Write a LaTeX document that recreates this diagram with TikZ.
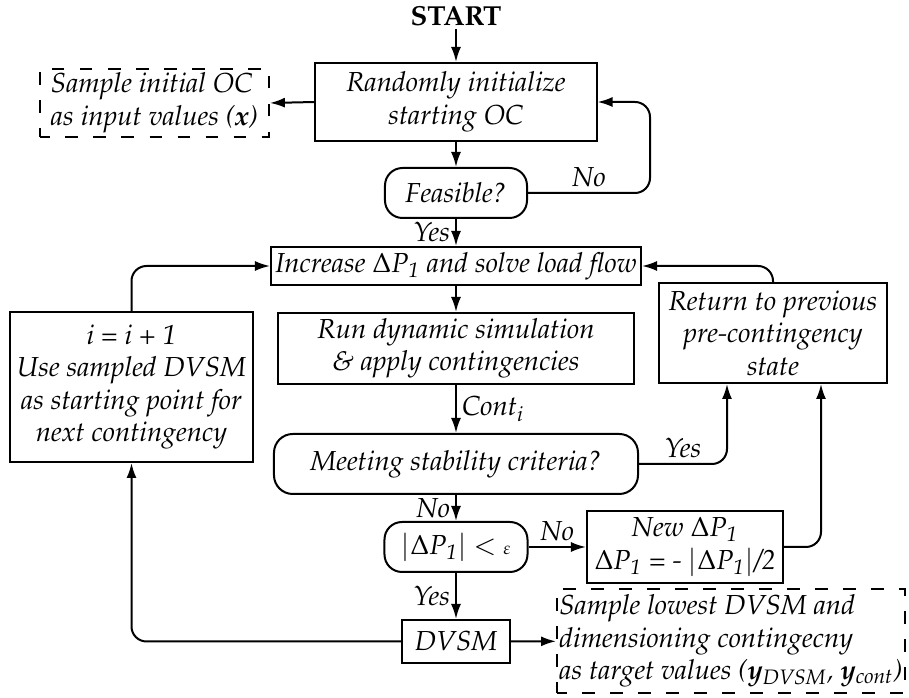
\documentclass[tikz,border=0pt]{standalone}
\usepackage[T1]{fontenc}
\usepackage{mathpazo}
\usetikzlibrary{arrows.meta}
\newcommand{\dP}{$\Delta$\textit{P}\textsubscript{1}}
\begin{document}
\begin{tikzpicture}[x=0.4pt,y=-0.4pt,
  every node/.style={font=\fontsize{11}{13}\selectfont\itshape, inner sep=1pt},
  box/.style={draw, line width=0.8pt, align=center},
  rbox/.style={box, rounded corners=7pt},
  dbox/.style={draw, line width=0.7pt, align=left, dash pattern=on 5pt off 6.2pt, dash phase=1pt},
  arr/.style={line width=0.8pt, -{Latex[length=6pt,width=4pt]}, rounded corners=6pt},
  lbl/.style={inner sep=2pt}
]
\useasboundingbox (0,0) rectangle (909,698);

\node[font=\fontsize{11}{13}\selectfont\bfseries\upshape] (start) at (456,16) {START};
\node[box, minimum width=112.4pt, minimum height=31.2pt] (init) at (456,102) {Randomly initialize\\starting OC};
\node[dbox, minimum width=91.6pt, minimum height=27.2pt] (s1) at (154.5,103) {Sample initial OC\\as input values (\textbf{x})};
\node[rbox, minimum width=56.8pt, minimum height=20pt] (feas) at (456,193) {Feasible?};
\node[box, minimum width=148pt, minimum height=15.2pt] (incr) at (456,266) {Increase \dP{} and solve load flow};
\node[box, minimum width=142pt, minimum height=28.4pt] (run) at (456,348.5) {Run dynamic simulation\\\& apply contingencies};
\node[rbox, rounded corners=7.5pt, minimum width=145.6pt, minimum height=24pt] (meet) at (456,464) {Meeting stability criteria?};
\node[box, minimum width=91.2pt, minimum height=40pt] (ret) at (773,333) {Return to previous\\pre-contingency\\state};
\node[box, minimum width=97.2pt, minimum height=60pt] (iinc) at (131.5,387) {\textit{i} = \textit{i} + 1\\Use sampled DVSM\\as starting point for\\next contingency};
\node[rbox, minimum width=57.2pt, minimum height=20pt] (abs) at (456,547) {$|$\dP$|$ $<$ {\scriptsize$\varepsilon$}};
\node[box, minimum width=78.4pt, minimum height=28.8pt] (newdp) at (685,547) {New \dP\\\dP{} = - $|$\dP$|$/2};
\node[box, minimum width=43.2pt, minimum height=17.2pt] (dvsm) at (456,641.5) {DVSM};
\node[dbox, minimum width=139.2pt, minimum height=41.6pt] (s2) at (731,641) {Sample lowest DVSM and\\dimensioning contingecny\\as target values (\textbf{y}\textsubscript{DVSM}, \textbf{y}\textsubscript{cont})};

\coordinate (nr) at (650,0);
\coordinate (ya) at (727,0);
\coordinate (yb) at (821,0);

\draw[arr] (start) -- (init);
\draw[arr] (init.west) -- (s1.east);
\draw[arr] (init) -- (feas);
\draw[arr] (feas.east) -- node[lbl, above]{No} (feas.east -| nr) -- (init.east -| nr) -- (init.east);
\draw[arr] (feas) -- node[lbl, left]{Yes} (incr);
\draw[arr] (incr) -- (run);
\draw[arr] (run) -- node[lbl, right]{Cont\textsubscript{i}} (meet);
\draw[arr] (meet.east) -- node[lbl, above]{Yes} (meet.east -| ya) -- (ya |- ret.south);
\draw[arr] (meet) -- node[lbl, left]{No} (abs);
\draw[arr] (abs) -- node[lbl, above]{No} (newdp);
\draw[arr] (newdp.east) -- (newdp.east -| yb) -- (yb |- ret.south);
\draw[arr] (ret.north) -- (ret.north |- incr.east) -- (incr.east);
\draw[arr] (abs) -- node[lbl, left]{Yes} (dvsm);
\draw[arr] (dvsm.west) -- (dvsm.west -| iinc.south) -- (iinc.south);
\draw[arr] (iinc.north) -- (iinc.north |- incr.west) -- (incr.west);
\draw[arr] (dvsm) -- (s2);
\end{tikzpicture}
\end{document}
